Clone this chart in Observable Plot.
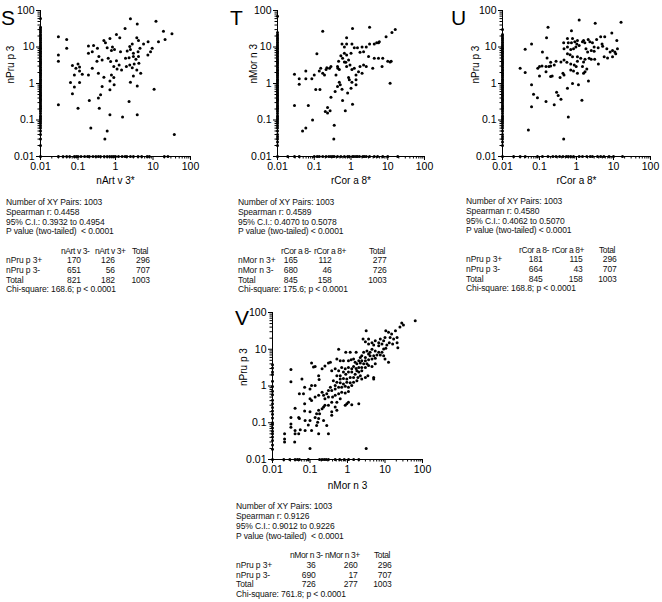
<!DOCTYPE html>
<html><head><meta charset="utf-8">
<script src="https://cdn.jsdelivr.net/npm/d3@7"></script>
<script src="https://cdn.jsdelivr.net/npm/@observablehq/plot@0.6"></script>
<style>
body{margin:0;background:#fff;font-family:"Liberation Sans",Arial,sans-serif;}
#root{position:relative;width:662px;height:602px;overflow:hidden;background:#fff;}
.panel{position:absolute;}
.letter{position:absolute;font-size:21px;line-height:1;color:#000;}
.stat{position:absolute;font-size:8.5px;line-height:1;white-space:pre;color:#111;letter-spacing:-0.1px;}
.stat.head{letter-spacing:-0.4px;}
</style></head><body><div id="root"></div>
<script>
// ---------- axis ticks ----------
const decades = [0.01, 0.1, 1, 10, 100];
const tickLabels = ["0.01", "0.1", "1", "10", "100"];

// ---------- Panel S : nArt v 3* vs nPru p 3 ----------
const sPts = [[2.5,59],[3.8,43],[12,51],[1.8,32],[19,27],[32,23],[21,16],[14,14],[0.03,19],[0.05,16],[1.06,22],[1.3,18],[0.49,15],[0.71,17],[0.54,13],[3.7,18],[4.1,15],[5.6,12],[7.4,14],[2.8,12],[2.4,10.4],[0.19,10.6],[0.26,11],[0.33,9.2],[0.83,10],[0.94,8.6],[0.78,8],[0.6,9.6],[0.19,6.7],[0.24,7.4],[0.05,9.2],[0.03,6],[0.03,4.1],[1.36,7.4],[2.05,7.8],[2.5,8.6],[3,6.7],[4,7.4],[4.5,9.2],[9.5,9.2],[8.6,7.4],[7.3,6],[1.85,4.9],[2.3,5.1],[3,5.5],[3.5,4.6],[4.1,5.5],[4.2,3.6],[3.15,3.4],[0.36,5.5],[0.32,4.1],[0.44,4.4],[0.64,4.9],[0.74,4],[1.06,4.2],[0.9,2.9],[1.25,3.2],[1.1,2.5],[1.45,2.36],[1.95,2.9],[2.4,3.2],[2.8,2.7],[3.7,2.36],[4.7,1.9],[0.071,3.1],[0.1,3.4],[0.11,2.85],[0.11,2.2],[0.088,2.6],[0.08,1.72],[0.13,1.8],[0.19,1.72],[0.24,2.6],[0.35,1.9],[0.49,1.49],[0.78,1.72],[0.9,1.46],[0.71,1.18],[0.92,0.92],[0.71,0.67],[3,1.6],[2.5,1.09],[3.8,0.86],[0.063,1.06],[0.08,0.8],[0.11,1.06],[0.071,0.52],[0.44,0.83],[0.4,0.49],[0.35,0.4],[0.2,0.34],[2.3,0.32],[10.7,0.7],[0.03,0.26],[0.1,0.21],[0.37,0.21],[0.71,0.14],[1.54,0.12],[3.8,0.14],[0.22,0.06],[0.6,0.05],[0.52,0.03],[37,0.04]];
const sColY = [0.01,0.02,0.03,0.04,0.05,0.06,0.07,0.08,0.09,0.1,0.11,0.12,0.13,0.15,0.17,0.19,0.21,0.23,0.25,0.28,0.31,0.34,0.37,0.4,0.44,0.48,0.52,0.57,0.62,0.68,0.75,0.82,0.9,1,1.1,1.2,1.3,1.45,1.6,1.75,1.9,2.1,2.3,2.5,2.8,3.1,3.4,3.7,4,4.4,4.8,5.3,5.8,6.4,7,7.7,8.5,9.3,10,11,12,13.5,15,16.5,18,20,22,25,28,31,35,60];
const sRowX = [0.03,0.04,0.05,0.06,0.08,0.09,0.1,0.12,0.15,0.18,0.2,0.25,0.3,0.35,0.4,0.5,0.6,0.7,0.8,0.9,1,1.2,1.5,1.8,2,2.5,3,4,5,7,8,20,25];
const sInfo = ["Number of XY Pairs: 1003","Spearman r: 0.4458","95% C.I.: 0.3932 to 0.4954","P value (two-tailed)  < 0.0001"];
const sHead = ["nArt v 3-","nArt v 3+","Total"];
const sRows = [["nPru p 3+","170","126","296"],["nPru p 3-","651","56","707"],["Total","821","182","1003"]];
const sChi = "Chi-square: 168.6; p < 0.0001";

// ---------- Panel T : rCor a 8* vs nMor n 3 ----------
const tPts = [[3.2,35],[1.1,32],[0.17,27],[16,30],[13,25],[9,19],[5.9,14],[5,13],[4.3,12],[5.6,13],[3.2,12],[2.6,10],[2,10],[0.76,18],[0.57,12],[0.76,12],[0.66,10],[1.06,12],[1.23,9.6],[1.5,9.6],[1.76,7.2],[2.2,7.4],[3,5.5],[4.3,4.9],[7.3,4.9],[5.6,4.9],[10,4.1],[11.6,3.9],[12.4,4.1],[7,2.9],[3.9,2.6],[2.6,2.9],[2.2,3.2],[1.76,2.9],[2,1.9],[1.6,2.1],[1.37,1.7],[1.06,2.4],[1.23,2.6],[0.94,3.2],[1,6.7],[0.76,6],[0.66,6.7],[0.53,5.8],[0.59,4.9],[0.46,4.1],[0.66,3.9],[0.86,4.4],[0.72,3.8],[0.76,2.9],[0.48,2.4],[0.43,2.9],[0.44,2.6],[0.39,1.7],[0.285,2.9],[0.26,2.6],[0.22,2.7],[0.21,2.4],[0.19,1.7],[0.17,1.9],[0.15,2.6],[0.137,2.2],[0.118,6.5],[0.1,1.7],[0.086,1.34],[0.059,2.2],[0.059,1.34],[0.039,1.34],[0.039,0.96],[0.029,1.8],[0.86,1.46],[0.9,1.26],[1.06,1.09],[1.37,1.26],[1.37,0.92],[1,0.74],[0.81,0.55],[0.57,0.7],[0.48,1.09],[0.51,0.92],[0.43,0.83],[0.37,0.6],[0.285,0.42],[0.23,0.22],[11.6,1.02],[1.1,0.27],[0.59,0.34],[0.7,0.18],[0.27,0.18],[0.23,0.155],[0.2,0.17],[0.11,0.68],[0.143,0.68],[0.029,0.25],[0.069,0.25],[0.35,0.072],[0.09,0.1],[0.059,0.06],[0.048,0.05],[0.34,0.03]];
const tColY = [0.01,0.02,0.025,0.03,0.035,0.04,0.05,0.06,0.07,0.08,0.09,0.1,0.11,0.12,0.13,0.15,0.17,0.19,0.21,0.23,0.25,0.28,0.31,0.34,0.37,0.4,0.44,0.48,0.52,0.57,0.62,0.68,0.75,0.82,0.9,1,1.1,1.2,1.3,1.45,1.6,1.75,1.9,2.1,2.3,2.5,2.8,3.1,3.4,3.7,4,4.4,4.8,5.3,5.8,6.4,7,7.7,8.5,9.3,10,11,12,13.5,15,16.5,18,20,22,25,70];
const tRowX = [0.019,0.029,0.039,0.1,0.12,0.137,0.17,0.21,0.25,0.285,0.32,0.35,0.43,0.53,0.66,0.81,0.9,1.1,1.2,1.37,1.5,1.7,2.1,2.3,2.6,3.2,4.3,5.3,7.3,10,18.7];
const tInfo = ["Number of XY Pairs: 1003","Spearman r: 0.4589","95% C.I.: 0.4070 to 0.5078","P value (two-tailed) < 0.0001"];
const tHead = ["rCor a 8-","rCor a 8+","Total"];
const tRows = [["nMor n 3+","165","112","277"],["nMor n 3-","680","46","726"],["Total","845","158","1003"]];
const tChi = "Chi-square: 175.6; p < 0.0001";

// ---------- Panel U : rCor a 8* vs nPru p 3 ----------
const uPts = [[1.18,55],[3.2,45],[16,48],[0.17,35],[0.73,28],[0.155,18],[0.061,12],[0.041,8.7],[0.57,17],[0.78,17],[1.06,15],[1.55,15],[2.07,16],[3.5,16],[4.5,19],[5.8,19],[9,24],[12.3,15],[0.45,13],[0.6,13],[0.73,13],[0.9,14],[1.02,12],[1.18,11],[1.45,14],[1.68,13],[2.3,14],[2.7,13],[3,10],[3.85,9.5],[4.9,12],[5.1,10.5],[6.6,9],[9.4,8],[12.8,9],[10.9,7.3],[8.1,7.3],[5.6,5.4],[6.9,5],[9.4,5.4],[11.5,6.5],[0.12,7.3],[0.46,9],[0.57,10],[0.7,8.6],[0.83,9],[0.96,10],[1.8,9],[2,7.3],[2.5,8],[3,7.6],[0.57,6.5],[0.67,6.1],[0.78,5.4],[1.06,5.4],[1.3,4.9],[1.55,3.9],[1.7,4.6],[2.2,4.9],[2.5,4.6],[3.1,4.6],[3.9,3.4],[0.16,5],[0.2,3.8],[0.28,4.1],[0.25,3.2],[0.38,3.9],[0.46,4.4],[0.55,3.8],[0.7,3.4],[0.87,3.2],[0.98,2.9],[1.06,4.1],[1.45,2.9],[1.9,2.5],[0.1,2.9],[0.09,2.6],[0.117,3],[0.15,2.9],[0.18,2.9],[0.2,3],[0.03,2.6],[0.041,2],[0.1,1.6],[0.15,2.1],[0.2,1.55],[0.22,1.6],[0.36,1.45],[0.43,1.9],[0.46,1.7],[0.7,2.36],[0.83,2.2],[1.06,1.9],[1.55,1.9],[1.7,2.1],[0.78,1],[1.13,0.92],[2.1,1.18],[0.57,0.74],[0.061,0.92],[0.069,0.51],[0.088,0.41],[0.15,0.32],[0.29,0.58],[0.32,0.47],[0.38,0.37],[1.4,0.35],[0.25,0.26],[0.061,0.23],[0.05,0.053],[0.6,0.12],[0.45,0.03]];
const uColY = [0.01,0.02,0.025,0.03,0.035,0.04,0.05,0.06,0.07,0.08,0.09,0.1,0.11,0.12,0.13,0.15,0.17,0.19,0.21,0.23,0.25,0.28,0.31,0.34,0.37,0.4,0.44,0.48,0.52,0.57,0.62,0.68,0.75,0.82,0.9,1,1.1,1.2,1.3,1.45,1.6,1.75,1.9,2.1,2.3,2.5,2.8,3.1,3.4,3.7,4,4.4,4.8,5.3,5.8,6.4,7,7.7,8.5,9.3,10,11,12,13.5,15,16.5,18,20,22,30];
const uRowX = [0.02,0.03,0.041,0.088,0.12,0.17,0.23,0.28,0.35,0.43,0.53,0.6,0.7,0.83,1.18,1.45,1.9,2.35,2.7,3.7,4.5,5.5,7.6,10,17.5];
const uInfo = ["Number of XY Pairs: 1003","Spearman r: 0.4580","95% C.I.: 0.4062 to 0.5070","P value (two-tailed) < 0.0001"];
const uHead = ["rCor a 8-","rCor a 8+","Total"];
const uRows = [["nPru p 3+","181","115","296"],["nPru p 3-","664","43","707"],["Total","845","158","1003"]];
const uChi = "Chi-square: 168.8; p < 0.0001";

// ---------- Panel V : nMor n 3 vs nPru p 3 ----------
const vPts = [[64,60],[28,52],[31,46],[25,40],[19,32],[15,26],[10.5,32],[12.4,29],[3.15,32],[10,21],[13.7,21],[17,19],[21,21],[9.2,17],[7.5,19],[6.8,15],[5.5,17],[4.5,15],[3.65,19],[2.6,19],[3,16],[3.65,14],[5,13],[6.8,12.5],[8.3,14],[11.2,13],[13,15],[16,14],[22,11],[21,15],[10.5,10.6],[9.2,10.2],[8.3,8.3],[6.8,8.3],[5.5,9],[4.5,10],[4,8.3],[3.65,7.4],[3.3,9],[2.7,8.3],[2.4,6.7],[2.2,6],[3,6],[4,6.7],[5,6.7],[6.1,7],[7.5,7],[9.2,6.7],[10,5.4],[12.4,4.4],[5.5,5.7],[4.5,5.4],[3.65,5.2],[3,4.9],[2.4,4.9],[2,4.9],[1.6,4.4],[1.45,5.4],[1.25,5.2],[1.06,4.9],[0.9,8.3],[1.18,8.3],[1.7,8.3],[0.58,10],[0.52,5.4],[0.64,4.9],[0.78,4.9],[0.35,4.4],[0.31,4.2],[0.11,4.2],[0.124,3.3],[0.137,3.4],[0.21,2.95],[0.25,3.5],[1.78,4],[2.2,4.2],[2.7,4],[3.3,4],[3.65,3.6],[4.5,3.4],[5.5,4],[3,3.2],[2.4,3.2],[2,3.2],[1.7,3],[1.45,3.4],[1.3,2.95],[1.06,3.2],[0.87,2.95],[0.7,3.2],[0.58,2.6],[0.47,2.95],[0.38,2.6],[2.4,2.6],[2,2.4],[1.78,2.6],[1.6,2.1],[1.3,2.4],[1.06,2.4],[0.9,2.1],[0.78,2.4],[0.64,1.9],[0.52,1.9],[2.2,1.9],[1.9,1.7],[1.45,1.7],[1.18,1.7],[0.96,1.55],[0.78,1.6],[0.64,1.55],[2.4,1.55],[1.78,1.4],[1.45,1.27],[1.18,1.22],[0.96,1.27],[0.78,1.14],[0.64,1.22],[0.52,1.27],[0.47,1.03],[0.42,1.4],[5,1.7],[5,1.55],[3,1.7],[3.5,1.9],[0.061,1.55],[0.031,2.8],[0.031,1.3],[0.17,1.9],[0.175,1.5],[0.137,1.03],[0.11,1.03],[0.1,0.83],[0.072,0.93],[0.067,0.62],[0.052,0.62],[0.072,0.33],[0.04,0.25],[0.1,0.45],[0.11,0.4],[0.137,0.5],[0.17,0.56],[0.21,0.68],[0.23,0.56],[0.28,0.62],[0.31,0.75],[0.38,0.75],[0.47,0.83],[0.58,0.93],[0.7,0.93],[0.87,0.99],[1.06,0.93],[1.3,1.03],[0.35,0.93],[0.4,0.5],[0.47,0.56],[0.58,0.62],[0.7,0.68],[0.87,0.65],[1.06,0.71],[0.64,0.45],[0.52,0.36],[0.38,0.36],[0.31,0.3],[0.25,0.3],[0.23,0.27],[0.21,0.24],[0.17,0.22],[0.15,0.175],[0.18,0.175],[0.38,0.2],[0.47,0.27],[0.52,0.22],[0.31,0.5],[0.25,0.45],[0.1,0.2],[0.072,0.21],[0.05,0.14],[0.052,0.13],[0.074,0.116],[0.09,0.087],[0.1,0.116],[0.137,0.14],[0.23,0.116],[0.17,0.13],[0.87,0.3],[1.06,0.36],[1.3,0.31],[0.96,0.33],[2,0.33],[0.38,0.16],[0.031,0.14],[0.031,0.093],[0.031,0.076],[0.04,0.062],[0.055,0.065],[0.074,0.062],[0.11,0.062],[0.15,0.084],[0.04,0.05],[0.05,0.05],[0.039,0.03],[0.021,0.05],[0.021,0.036],[0.021,0.03],[0.1,0.02],[0.17,0.05],[0.31,0.05],[3.15,0.02],[0.28,0.084],[0.16,0.103]];
const vColY = [0.01,0.019,0.025,0.033,0.041,0.05,0.059,0.072,0.089,0.1,0.135,0.17,0.21,0.26,0.33,0.41,0.58,0.72,0.97,1.35,2.05,2.4,3.1,3.8];
const vRowX = [0.02,0.029,0.04,0.046,0.052,0.09,0.18,0.21,0.24,0.27,0.31,0.47,0.62,0.82,1.07,1.46,2.0];
const vInfo = ["Number of XY Pairs: 1003","Spearman r: 0.9126","95% C.I.: 0.9012 to 0.9226","P value (two-tailed)  < 0.0001"];
const vHead = ["nMor n 3-","nMor n 3+","Total"];
const vRows = [["nPru p 3+","36","260","296"],["nPru p 3-","690","17","707"],["Total","726","277","1003"]];
const vChi = "Chi-square: 761.8; p < 0.0001";

// ---------- rendering ----------
const root = document.getElementById("root");
const minorTicks = decades.slice(0, -1).flatMap(d => [2,3,4,5,6,7,8,9].map(k => +(d * k).toPrecision(3)));
const FONT = '"Liberation Sans", Arial, sans-serif';

function drawPanel(o) {
  const data = [
    ...o.pts.map(([x, y]) => ({x, y})),
    ...o.colY.map(y => ({x: 0.01, y})),
    ...o.rowX.map(x => ({x, y: 0.01}))
  ];
  const fmt = d => tickLabels[decades.indexOf(d)];
  const chart = Plot.plot({
    width: o.w, height: o.h,
    marginLeft: o.mL, marginRight: o.mR, marginTop: o.mT, marginBottom: o.mB,
    style: {fontFamily: FONT, fontSize: "10.5px", background: "transparent", color: "#000", overflow: "visible"},
    x: {type: "log", domain: [0.01, 100]},
    y: {type: "log", domain: [0.01, 100]},
    marks: [
      Plot.axisX(decades, {tickSize: 4, tickPadding: 2, tickFormat: fmt, label: null, fontSize: 10.5}),
      Plot.axisX(minorTicks, {tickSize: 2.5, tickFormat: () => "", label: null}),
      Plot.axisY(decades, {tickSize: 4, tickPadding: 2, tickFormat: fmt, label: null, fontSize: 10.5}),
      Plot.axisY(minorTicks, {tickSize: 2.5, tickFormat: () => "", label: null}),
      Plot.ruleX([0.01], {stroke: "#000", strokeWidth: 1}),
      Plot.ruleY([0.01], {stroke: "#000", strokeWidth: 1}),
      Plot.dot(data, {x: "x", y: "y", r: 1.5, fill: "#000"}),
      Plot.text([o.xLabel], {frameAnchor: "bottom", dy: o.xdy, fontSize: 10, fill: "#000"}),
      Plot.text([o.yLabel], {frameAnchor: "left", dx: o.ydx, rotate: -90, fontSize: 10, fill: "#000"})
    ]
  });
  const div = document.createElement("div");
  div.className = "panel";
  div.style.left = o.left + "px";
  div.style.top = o.top + "px";
  div.appendChild(chart);
  root.appendChild(div);

  const L = document.createElement("div");
  L.className = "letter";
  L.textContent = o.letter;
  L.style.left = o.letterX + "px";
  L.style.top = o.letterY + "px";
  root.appendChild(L);
}

function put(txt, x, cy, right, cls) {
  const el = document.createElement("div");
  el.className = "stat" + (cls ? " " + cls : "");
  el.textContent = txt;
  el.style.left = x + "px";
  el.style.top = (cy - 4.4) + "px";
  if (right) el.style.transform = "translateX(-100%)";
  root.appendChild(el);
}

function drawStats(s) {
  s.info.forEach((t, i) => put(t, s.x, s.y0 + i * s.lh));
  s.head.forEach((t, j) => put(t, s.headX[j], s.y0 + 5 * s.lh, false, "head"));
  s.rows.forEach((r, i) => {
    put(r[0], s.x, s.y0 + (6 + i) * s.lh);
    for (let j = 1; j < 4; j++) put(r[j], s.valX[j - 1], s.y0 + (6 + i) * s.lh, true);
  });
  put(s.chi, s.x, s.y0 + 9 * s.lh);
}

drawPanel({left: 0, top: 0, w: 200, h: 195, mL: 40, mR: 10, mT: 10, mB: 39,
  pts: sPts, colY: sColY, rowX: sRowX, xLabel: "nArt v 3*", yLabel: "nPru p 3", xdy: 27, ydx: -30,
  letter: "S", letterX: 1, letterY: 7});
drawPanel({left: 237, top: 0, w: 200, h: 195, mL: 40, mR: 13, mT: 10, mB: 39,
  pts: tPts, colY: tColY, rowX: tRowX, xLabel: "rCor a 8*", yLabel: "nMor n 3", xdy: 27, ydx: -24,
  letter: "T", letterX: 230, letterY: 7});
drawPanel({left: 462, top: 0, w: 200, h: 195, mL: 40, mR: 12, mT: 10, mB: 39,
  pts: uPts, colY: uColY, rowX: uRowX, xLabel: "rCor a 8*", yLabel: "nPru p 3", xdy: 27, ydx: -27,
  letter: "U", letterX: 451, letterY: 7});
drawPanel({left: 232, top: 302, w: 200, h: 196, mL: 40, mR: 10, mT: 10, mB: 39,
  pts: vPts, colY: vColY, rowX: vRowX, xLabel: "nMor n 3", yLabel: "nPru p 3", xdy: 29, ydx: -29,
  letter: "V", letterX: 235, letterY: 307});

drawStats({info: sInfo, head: sHead, rows: sRows, chi: sChi, x: 6, y0: 202.7, lh: 9.67,
  headX: [61, 95, 132], valX: [81, 115, 150]});
drawStats({info: tInfo, head: tHead, rows: tRows, chi: tChi, x: 238, y0: 202.7, lh: 9.67,
  headX: [281, 314, 369], valX: [297.7, 331.7, 386.7]});
drawStats({info: uInfo, head: uHead, rows: uRows, chi: uChi, x: 466, y0: 201.7, lh: 9.67,
  headX: [519, 552, 599], valX: [542.7, 582.7, 616.7]});
drawStats({info: vInfo, head: vHead, rows: vRows, chi: vChi, x: 236, y0: 506.7, lh: 9.75,
  headX: [290, 325, 374], valX: [315.7, 357.7, 391.7]});
</script></body></html>
